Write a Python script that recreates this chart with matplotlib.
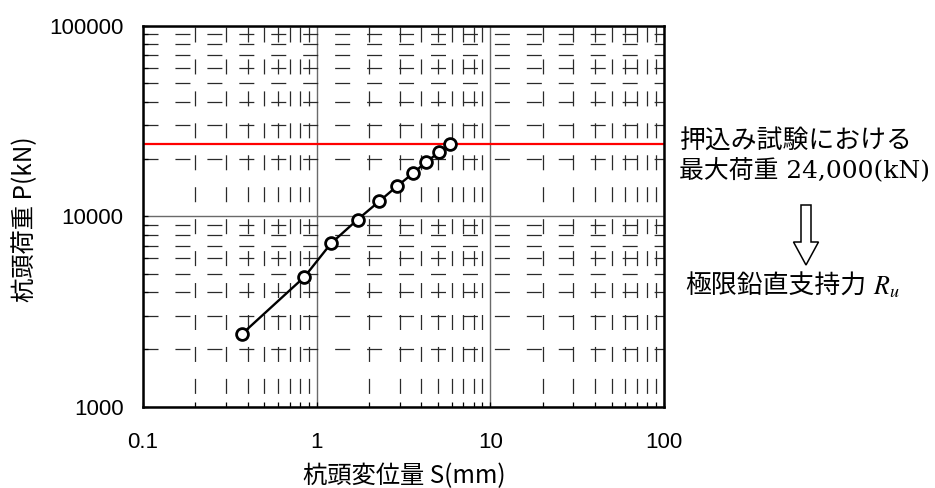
import matplotlib
matplotlib.use("Agg")
import matplotlib.pyplot as plt
from matplotlib.patches import Polygon
from matplotlib.ticker import LogLocator, NullFormatter

plt.rcParams["lines.scale_dashes"] = False
plt.rcParams["mathtext.fontset"] = "stix"

# Load test results: pile-head displacement (mm) vs. pile-head load (kN)
displacement = [0.37, 0.85, 1.21, 1.72, 2.30, 2.91, 3.59, 4.25, 5.05, 5.87]
load = [2400, 4800, 7200, 9600, 12000, 14400, 16800, 19200, 21600, 24000]
max_load = 24000

x_ticks = [0.1, 1, 10, 100]
x_tick_labels = ["0.1", "1", "10", "100"]
y_ticks = [1000, 10000, 100000]
y_tick_labels = ["1000", "10000", "100000"]

W, H = 935, 488


def fx(px):
    return px / W


def fy(py):
    return 1 - py / H


fig = plt.figure(figsize=(W / 100, H / 100), dpi=100)
ax = fig.add_axes([fx(143), fy(406.7), (664 - 143) / W, (406.7 - 25.7) / H])

ax.set_xscale("log")
ax.set_yscale("log")
ax.set_xlim(x_ticks[0], x_ticks[-1])
ax.set_ylim(y_ticks[0], y_ticks[-1])
ax.set_xticks(x_ticks, x_tick_labels)
ax.set_yticks(y_ticks, y_tick_labels)
for axis in (ax.xaxis, ax.yaxis):
    axis.set_minor_locator(LogLocator(base=10, subs=range(2, 10)))
    axis.set_minor_formatter(NullFormatter())

# grid: solid decades, dashed sub-decades
ax.grid(which="major", color="#6a6a6a", lw=1.0, ls="-")
ax.grid(which="minor", axis="y", color="#2a2a2a", lw=0.9, ls=(0, (10.8, 12.2)))
ax.grid(which="minor", axis="x", color="#2a2a2a", lw=0.9, ls=(13.2, (10.8, 12.2)))

ax.tick_params(which="both", direction="in", length=3.6, width=0.9, color="black",
               top=False, right=False)
ax.tick_params(axis="x", which="major", labelsize=16, pad=18.5)
ax.tick_params(axis="y", which="major", labelsize=16, pad=14)
for lbl in ax.get_xticklabels() + ax.get_yticklabels():
    lbl.set_fontfamily("Liberation Sans")

for sp in ax.spines.values():
    sp.set_linewidth(1.8)
    sp.set_color("black")
    sp.set_zorder(5)

ax.axhline(max_load, color="#ff0000", lw=1.6, zorder=3)
ax.plot(displacement, load, color="black", lw=1.7, marker="o", ms=8.5,
        mfc="white", mec="black", mew=2.0, zorder=4)

label_font = ["Noto Sans CJK JP", "DejaVu Sans"]
fig.text(fx(25.5), fy(219), "杭頭荷重 P(kN)", rotation=90, ha="center", va="center",
         fontsize=17.5, family=label_font)
fig.text(fx(404), fy(476), "杭頭変位量 S(mm)", ha="center", va="center",
         fontsize=17.5, family=label_font)

note_font = ["DejaVu Serif", "Noto Sans CJK JP"]
fig.text(fx(680), fy(149), "押込み試験における", ha="left", va="baseline",
         fontsize=18.6, family=note_font)
fig.text(fx(679), fy(177), "最大荷重 24,000(kN)", ha="left", va="baseline",
         fontsize=17.9, family=note_font)
fig.text(fx(685), fy(294), "極限鉛直支持力", ha="left", va="baseline",
         fontsize=18.6, family=note_font)
fig.text(fx(873), fy(294), r"$R_u$", ha="left", va="baseline", fontsize=18.6)

# hollow down arrow
cx, top, neck, tip, sw, hw = 806, 205, 242, 265, 5, 12.5
arrow_pts = [(cx - sw, top), (cx + sw, top), (cx + sw, neck), (cx + hw, neck),
             (cx, tip), (cx - hw, neck), (cx - sw, neck)]
fig.add_artist(Polygon([(fx(x), fy(y)) for x, y in arrow_pts], closed=True,
                       transform=fig.transFigure, facecolor="white",
                       edgecolor="black", lw=1.1))

fig.savefig("out.png", dpi=100)
